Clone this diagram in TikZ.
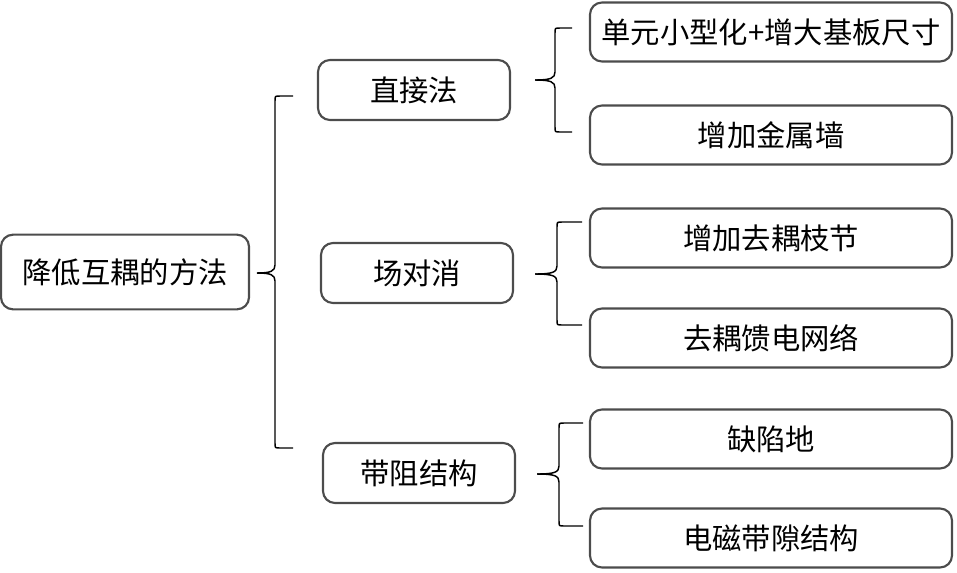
\documentclass[tikz,border=0pt]{standalone}
\usepackage{fontspec}
\setmainfont{Noto Sans CJK SC}
\begin{document}
\begin{tikzpicture}[x=0.75pt,y=-0.75pt,
  box/.style={draw=black!70,line width=1.6pt,rounded corners=9pt,inner sep=0pt,
    font=\fontsize{22}{26}\selectfont,text=black},
  rootbox/.style={box,minimum width=186pt,minimum height=56pt},
  midbox/.style={box,minimum width=144pt,minimum height=45pt},
  leafbox/.style={box,minimum width=271.5pt,minimum height=44.25pt},
  brace/.style={draw=black,line width=1.1pt}]
\useasboundingbox (0,0) rectangle (957,572);
\node[rootbox] (root) at (125,272) {降低互耦的方法};
\node[midbox] (m1) at (414,90) {直接法};
\node[midbox] (m2) at (417,273) {场对消};
\node[midbox] (m3) at (419,473) {带阻结构};
\node[leafbox] (l1) at (771,32) {单元小型化+增大基板尺寸};
\node[leafbox] (l2) at (771,135) {增加金属墙};
\node[leafbox] (l3) at (771,238) {增加去耦枝节};
\node[leafbox] (l4) at (771,338) {去耦馈电网络};
\node[leafbox] (l5) at (771,439) {缺陷地};
\node[leafbox] (l6) at (771,538) {电磁带隙结构};
% braces: tip x, mid y, vertical x, top y, bottom y, end x
\newcommand{\mybrace}[6]{%
  \draw[brace] (#6,#4) -- ({#3+5},#4) .. controls (#3,#4) .. (#3,{#4+5})
    -- (#3,{#2-8}) .. controls (#3,{#2-2}) and ({#3-4},#2) .. (#1,#2);
  \draw[brace] (#6,#5) -- ({#3+5},#5) .. controls (#3,#5) .. (#3,{#5-5})
    -- (#3,{#2+8}) .. controls (#3,{#2+2}) and ({#3-4},#2) .. (#1,#2);
}
\mybrace{257}{273}{275}{96}{448}{293}
\mybrace{535}{80}{555}{28}{132}{572}
\mybrace{535}{274}{557}{222}{325}{582}
\mybrace{537}{474}{559}{423}{526}{583}
\end{tikzpicture}
\end{document}
